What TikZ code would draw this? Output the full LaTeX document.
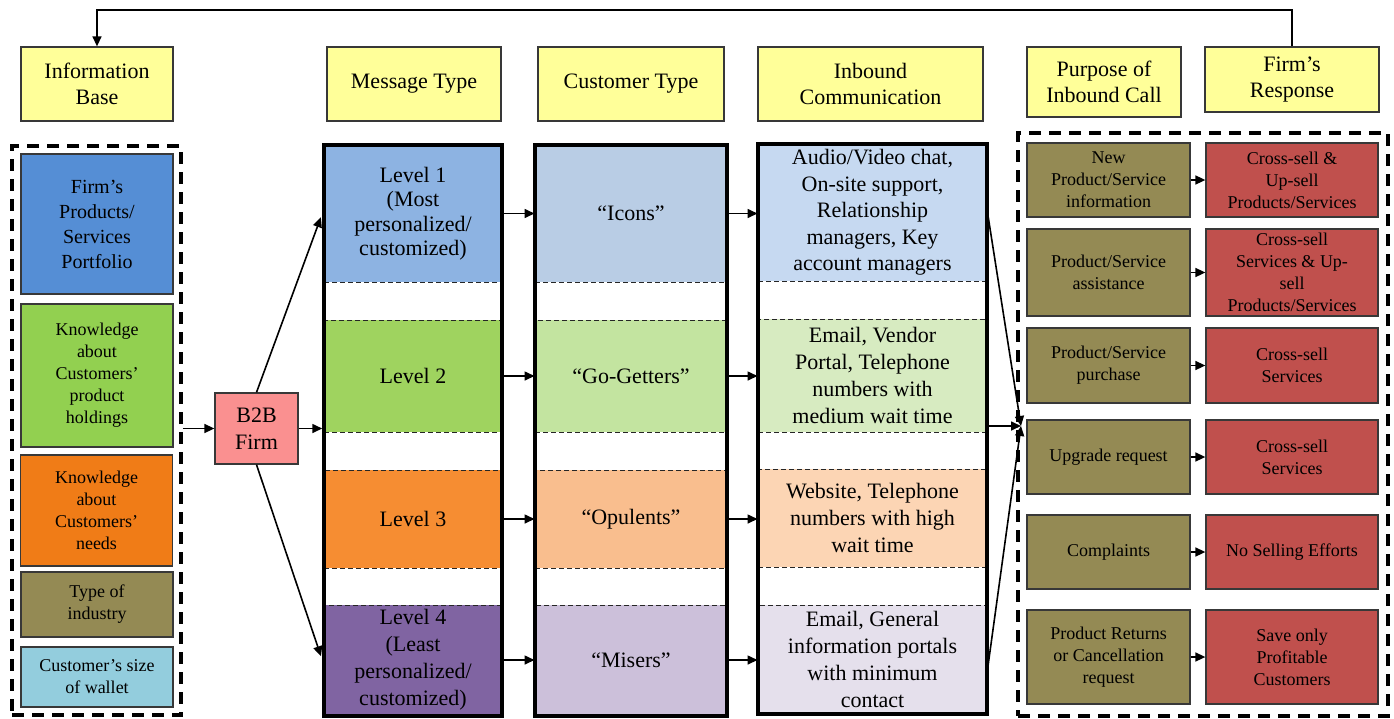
\documentclass[tikz,border=0pt]{standalone}
\usepackage{fontspec}
\setmainfont{Liberation Serif}
\usetikzlibrary{arrows.meta}
\definecolor{hdrY}{HTML}{FFFF99}
\definecolor{cBlue}{HTML}{558ED5}
\definecolor{cGreen}{HTML}{92D050}
\definecolor{cOrange}{HTML}{F07C17}
\definecolor{cOlive}{HTML}{948A54}
\definecolor{cCyan}{HTML}{93CDDD}
\definecolor{cPink}{HTML}{FA9090}
\definecolor{lA}{HTML}{8DB3E2}
\definecolor{lB}{HTML}{9FD35F}
\definecolor{lC}{HTML}{F68D32}
\definecolor{lD}{HTML}{8064A2}
\definecolor{cA}{HTML}{B9CDE5}
\definecolor{cB}{HTML}{C3E4A0}
\definecolor{cC}{HTML}{F9BE8E}
\definecolor{cD}{HTML}{CCC0DA}
\definecolor{iA}{HTML}{C6D9F1}
\definecolor{iB}{HTML}{D7EBC1}
\definecolor{iC}{HTML}{FCD5B4}
\definecolor{iD}{HTML}{E5E0EC}
\definecolor{cRed}{HTML}{C0504D}
\newcommand{\myfs}[2]{\fontsize{#1}{#2}\selectfont}
\begin{document}
\begin{tikzpicture}[x=1pt,y=-1pt,
  box/.style={draw=black!78, line width=1.3pt, inner sep=0pt, align=center},
  hdr/.style={box, fill=hdrY, font={\myfs{22}{26.5}}},
  lft/.style={box, minimum width=152pt, font={\myfs{18}{22}}},
  seg/.style={draw=black!85, line width=1pt, dash pattern=on 5pt off 3pt, inner sep=0pt, align=center},
  colbox/.style={draw=black, line width=3.5pt, inner sep=0pt},
  dbox/.style={draw=black, line width=3.8pt, dash pattern=on 12pt off 8pt, inner sep=0pt},
  pbox/.style={box, fill=cOlive, minimum width=163pt, font={\myfs{18}{22}}},
  rbx/.style={box, fill=cRed, minimum width=172pt, font={\myfs{18}{22}}},
  arr/.style={line width=1.6pt, -{Triangle[length=10pt,width=9pt]}},
  fb/.style={line width=1.4pt, -{Triangle[length=10pt,width=9pt]}}
]
\useasboundingbox (0,0) rectangle (1394,718);

% headers
\node[hdr, minimum width=152pt, minimum height=74pt] (info) at (97,84) {Information\\Base};
\node[hdr, minimum width=174pt, minimum height=74pt] (msg) at (414,84) {Message Type};
\node[hdr, minimum width=186pt, minimum height=74pt] (cust) at (631,84) {Customer Type};
\node[hdr, minimum width=225pt, minimum height=74pt] (inb) at (870.5,84) {Inbound\\Communication};
\node[hdr, minimum width=154pt, minimum height=70pt] (purp) at (1104,82) {Purpose of\\Inbound Call};
\node[hdr, minimum width=174pt, minimum height=65pt] (resp) at (1292,79.5) {Firm’s\\Response};

% left information base
\node[dbox, minimum width=169pt, minimum height=569pt] (lbox) at (96.5,430.5) {};
\node[lft, fill=cBlue, minimum height=140pt, font={\myfs{20}{25}}] (lb1) at (97,224) {Firm’s\\Products/\\Services\\Portfolio};
\node[lft, fill=cGreen, minimum height=143pt] (lb2) at (97,375.5) {Knowledge\\about\\Customers’\\product\\holdings};
\node[lft, fill=cOrange, minimum height=111pt] (lb3) at (96.5,510.5) {Knowledge\\about\\Customers’\\needs};
\node[lft, fill=cOlive, minimum height=65pt] (lb4) at (97,604.5) {Type of\\industry};
\node[lft, fill=cCyan, minimum height=60pt] (lb5) at (97,677) {Customer’s size\\of wallet};

% B2B firm
\node[box, fill=cPink, minimum width=83pt, minimum height=71pt, font={\myfs{22}{27}}] (b2b) at (256.5,428.5) {B2B\\Firm};

% message type column
\node[seg, fill=lA, minimum width=178pt, minimum height=137pt, font={\myfs{22}{24.5}}] (lvl1) at (413,213.5) {Level 1\\(Most\\personalized/\\customized)};
\node[seg, fill=lB, minimum width=178pt, minimum height=112pt, font={\myfs{22}{24.5}}] (lvl2) at (413,376) {Level 2};
\node[seg, fill=lC, minimum width=178pt, minimum height=98pt, font={\myfs{22}{24.5}}] (lvl3) at (413,519) {Level 3};
\node[seg, fill=lD, minimum width=178pt, minimum height=110pt, font={\myfs{22}{27}}] (lvl4) at (413,660) {Level 4\\(Least\\personalized/\\customized)};
\node[colbox, minimum width=178pt, minimum height=571pt] (colMsg) at (413,430.5) {};

% customer type column
\node[seg, fill=cA, minimum width=192pt, minimum height=137pt, font={\myfs{22}{26}}] (icons) at (631,213.5) {“Icons”};
\node[seg, fill=cB, minimum width=192pt, minimum height=112pt, font={\myfs{22}{26}}] (gog) at (631,376) {“Go-Getters”};
\node[seg, fill=cC, minimum width=192pt, minimum height=98pt, font={\myfs{22}{26}}] (opu) at (631,519) {“Opulents”};
\node[seg, fill=cD, minimum width=192pt, minimum height=110pt, font={\myfs{22}{26}}] (mis) at (631,660) {“Misers”};
\node[colbox, minimum width=192pt, minimum height=571pt] (colCust) at (631,430.5) {};

% inbound communication column
\node[seg, fill=iA, minimum width=229pt, minimum height=137pt, font={\myfs{22}{26.5}}] (inb1) at (872.5,212.5) {Audio/Video chat,\\On-site support,\\Relationship\\managers, Key\\account managers};
\node[seg, fill=iB, minimum width=229pt, minimum height=113pt, font={\myfs{22}{27}}] (inb2) at (872.5,375.5) {Email, Vendor\\Portal, Telephone\\numbers with\\medium wait time};
\node[seg, fill=iC, minimum width=229pt, minimum height=98pt, font={\myfs{22}{27}}] (inb3) at (872.5,518) {Website, Telephone\\numbers with high\\wait time};
\node[seg, fill=iD, minimum width=229pt, minimum height=109pt, font={\myfs{22}{27}}] (inb4) at (872.5,659.5) {Email, General\\information portals\\with minimum\\contact};
\node[colbox, minimum width=229pt, minimum height=570pt] (colInb) at (872.5,429) {};

% right side
\node[dbox, minimum width=370pt, minimum height=583pt] (rbox) at (1203,424.5) {};
\node[pbox, minimum height=74pt] (p1) at (1108.5,180) {New\\Product/Service\\information};
\node[pbox, minimum height=87pt] (p2) at (1108.5,272.5) {Product/Service\\assistance};
\node[pbox, minimum height=75pt] (p3) at (1108.5,365.5) {Product/Service\\purchase};
\node[pbox, minimum height=74pt] (p4) at (1108.5,457) {Upgrade request};
\node[pbox, minimum height=74pt] (p5) at (1108.5,552) {Complaints};
\node[pbox, minimum height=94pt] (p6) at (1108.5,657) {Product Returns\\or Cancellation\\request};
\node[rbx, minimum height=74pt] (r1) at (1292,180) {Cross-sell \&\\Up-sell\\Products/Services};
\node[rbx, minimum height=87pt] (r2) at (1292,272.5) {Cross-sell\\Services \& Up-\\sell\\Products/Services};
\node[rbx, minimum height=75pt] (r3) at (1292,365.5) {Cross-sell\\Services};
\node[rbx, minimum height=74pt] (r4) at (1292,457) {Cross-sell\\Services};
\node[rbx, minimum height=74pt] (r5) at (1292,552) {No Selling Efforts};
\node[rbx, minimum height=94pt] (r6) at (1292,657) {Save only\\Profitable\\Customers};

% connectors
\coordinate (topline) at (0,10);
\coordinate (conv) at (1021,426);
\draw[fb] (resp.north) -- (resp.north |- topline) -| (info.north);
\draw[arr] (lbox.east |- b2b) -- (b2b);
\draw[arr] (b2b) -- (colMsg.west |- b2b);
\draw[arr, shorten >=4pt] (b2b.north) -- (colMsg.west |- lvl1);
\draw[arr, shorten >=4pt] (b2b.south) -- (colMsg.west |- lvl4);
\draw[arr] (lvl1) -- (icons);
\draw[arr] (lvl2) -- (gog);
\draw[arr] (lvl3) -- (opu);
\draw[arr] (lvl4) -- (mis);
\draw[arr] (icons) -- (inb1.west |- icons);
\draw[arr] (gog) -- (inb2.west |- gog);
\draw[arr] (opu) -- (inb3.west |- opu);
\draw[arr] (mis) -- (inb4.west |- mis);
\draw[arr] (inb1.east) -- (conv);
\draw[arr] (inb2.east |- conv) -- (conv);
\draw[arr] ([yshift=-10pt]inb4.east) -- (conv);
\draw[arr] (p1) -- (r1);
\draw[arr] (p2) -- (r2);
\draw[arr] (p3) -- (r3);
\draw[arr] (p4) -- (r4);
\draw[arr] (p5) -- (r5);
\draw[arr] (p6) -- (r6);
\end{tikzpicture}
\end{document}
